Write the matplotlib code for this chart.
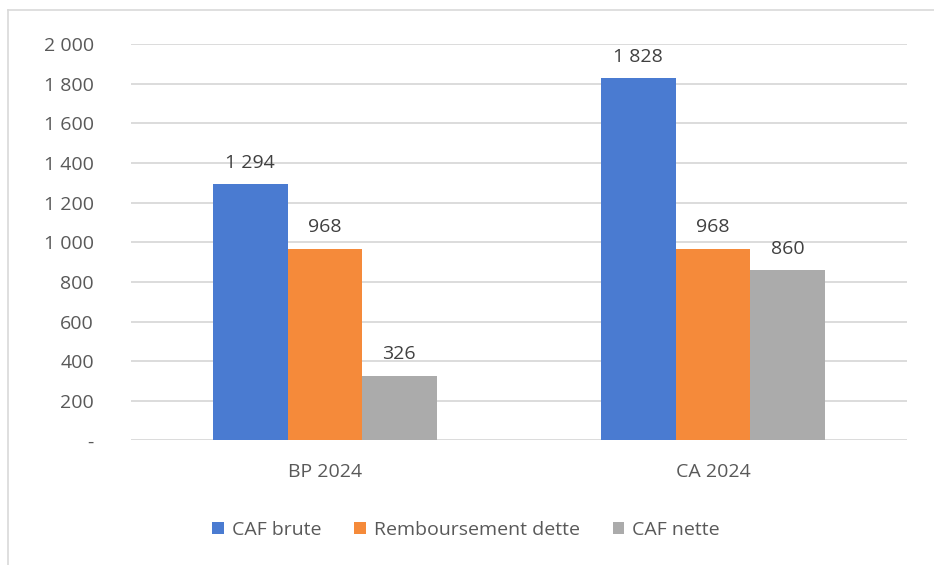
import matplotlib
matplotlib.use("Agg")
import matplotlib.pyplot as plt
from matplotlib.lines import Line2D
import numpy as np

# data
categories = ["BP 2024", "CA 2024"]
series_names = ["CAF brute", "Remboursement dette", "CAF nette"]
caf_brute = [1294, 1828]
remboursement = [968, 968]
caf_nette = [326, 860]
yticks = [0, 200, 400, 600, 800, 1000, 1200, 1400, 1600, 1800, 2000]

colors = ["#4A7BD1", "#F58A3A", "#ABABAB"]
text_color = "#595959"
grid_color = "#D9D9D9"

plt.rcParams["font.family"] = ["Open Sans", "DejaVu Sans"]
fs = 14


def fmt(v):
    if v == 0:
        return "-"
    return f"{v:,}".replace(",", " ")


fig = plt.figure(figsize=(9.34, 5.65), dpi=100)
ax = fig.add_axes([0.140, 0.2204, 0.831, 0.7016])

x = np.arange(len(categories))
width = 0.192
all_series = [caf_brute, remboursement, caf_nette]
for i, (vals, name, col) in enumerate(zip(all_series, series_names, colors)):
    pos = x + (i - 1) * width
    bars = ax.bar(pos, vals, width, color=col, label=name, zorder=3)
    for b, v in zip(bars, vals):
        ax.annotate(fmt(v), (b.get_x() + b.get_width() / 2, v),
                    xytext=(0, 9), textcoords="offset points",
                    ha="center", va="bottom", fontsize=fs, color="#404040")

ax.set_xlim(-0.5, 1.5)
ax.set_ylim(0, 2000)
ax.set_yticks(yticks)
ax.set_yticklabels([fmt(v) for v in yticks])
ax.set_xticks(x)
ax.set_xticklabels(categories)
ax.grid(axis="y", color=grid_color, linewidth=1.3, zorder=0)
ax.set_axisbelow(True)
for s in ax.spines.values():
    s.set_visible(False)
ax.tick_params(axis="both", length=0, labelsize=fs, colors=text_color)
ax.tick_params(axis="y", pad=26.5)
ax.tick_params(axis="x", pad=16)

ax.legend(loc="center", bbox_to_anchor=(0.432, -0.225), ncol=3, frameon=False,
          fontsize=fs, labelcolor=text_color, handlelength=0.6,
          handleheight=0.6, handletextpad=0.4, columnspacing=1.7)

# outer border (only top and left visible in the crop)
fig.add_artist(Line2D([8 / 934, 8 / 934], [0, 1 - 10 / 565], transform=fig.transFigure,
                      color=grid_color, linewidth=1.2))
fig.add_artist(Line2D([8 / 934, 1], [1 - 10 / 565, 1 - 10 / 565], transform=fig.transFigure,
                      color=grid_color, linewidth=1.2))

fig.savefig("out.png", dpi=100, facecolor="white")
